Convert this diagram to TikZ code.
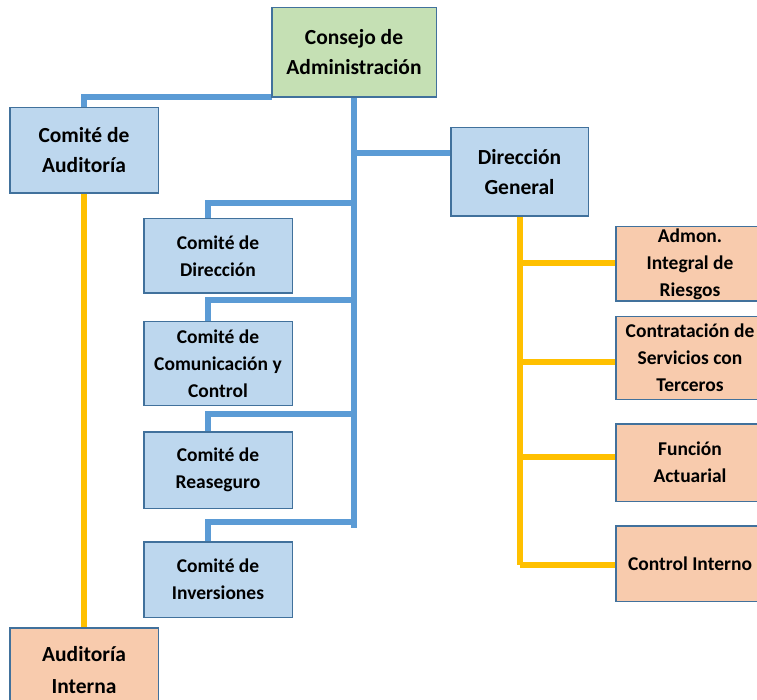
\documentclass[tikz,border=0pt]{standalone}
\usepackage{fontspec}
\setmainfont{Carlito}
\begin{document}
\begin{tikzpicture}[x=1pt,y=-1pt,
  box/.style={draw=boxline, line width=1pt, align=center, inner sep=0pt, text=black,
    font=\bfseries\fontsize{19.5}{27}\selectfont},
  bigfont/.style={font=\bfseries\fontsize{21.5}{30}\selectfont},
  bluebox/.style={box, fill=boxblue},
  greenbox/.style={box, bigfont, fill=boxgreen},
  orangebox/.style={box, fill=boxorange},
  bline/.style={draw=lineblue, line width=6pt},
  yline/.style={draw=lineyellow, line width=6pt}]
\definecolor{boxline}{HTML}{41719C}
\definecolor{boxblue}{HTML}{BDD7EE}
\definecolor{boxgreen}{HTML}{C5E0B4}
\definecolor{boxorange}{HTML}{F8CBAD}
\definecolor{lineblue}{HTML}{5B9BD5}
\definecolor{lineyellow}{HTML}{FFC000}
\clip (0,0) rectangle (757,700);
\fill[white] (0,0) rectangle (757,700);

% coordinates for junctions
\coordinate (j1) at (354,153);
\coordinate (b1) at (354,203);
\coordinate (b2) at (354,300);
\coordinate (b3) at (354,414);
\coordinate (b4) at (354,522);
\coordinate (tend) at (354,528);
\coordinate (y1) at (519.5,263);
\coordinate (y2) at (519.5,362);
\coordinate (y3) at (519.5,457);
\coordinate (y4) at (519.5,565);

% nodes
\node[greenbox, minimum width=164pt, minimum height=89pt] (cons) at (354,52.5) {Consejo de\\Administración};
\node[bluebox, bigfont, minimum width=148pt, minimum height=85pt] (caud) at (84,150.5) {Comité de\\Auditoría};
\node[bluebox, bigfont, minimum width=137pt, minimum height=88pt] (dg) at (519.5,172) {Dirección\\General};
\node[bluebox, minimum width=148pt, minimum height=74pt] (cdir) at (218,256) {Comité de\\Dirección};
\node[bluebox, minimum width=148pt, minimum height=83pt] (ccom) at (218,363.5) {Comité de\\Comunicación y\\Control};
\node[bluebox, minimum width=148pt, minimum height=76pt] (crea) at (218,470) {Comité de\\Reaseguro};
\node[bluebox, minimum width=148pt, minimum height=75pt] (cinv) at (218,579.5) {Comité de\\Inversiones};
\node[orangebox, minimum width=148pt, minimum height=74pt] (admon) at (690,264) {Admon.\\Integral de\\Riesgos};
\node[orangebox, minimum width=148pt, minimum height=82pt] (contr) at (690,358) {Contratación de\\Servicios con\\Terceros};
\node[orangebox, minimum width=148pt, minimum height=77pt] (func) at (690,462.5) {Función\\Actuarial};
\node[orangebox, minimum width=148pt, minimum height=75pt] (ctrl) at (690,563.5) {Control Interno};
\node[orangebox, font=\bfseries\fontsize{21.5}{32}\selectfont, minimum width=148pt, minimum height=84pt] (audi) at (84,670) {Auditoría\\Interna};

% blue connectors
\draw[bline] (cons.south west) -- (cons.south west -| caud.north) -- (caud.north);
\draw[bline] (cons.south) -- (tend);
\draw[bline] (j1) -- (j1 -| dg.west);
\draw[bline] (b1) -| ([xshift=-10pt]cdir.north);
\draw[bline] (b2) -| ([xshift=-10pt]ccom.north);
\draw[bline] (b3) -| ([xshift=-10pt]crea.north);
\draw[bline] (b4) -| ([xshift=-10pt]cinv.north);

% yellow connectors
\draw[yline] (caud.south) -- (audi.north);
\draw[yline] (dg.south) -- (y4);
\draw[yline] (y1) -- (y1 -| admon.west);
\draw[yline] (y2) -- (y2 -| contr.west);
\draw[yline] (y3) -- (y3 -| func.west);
\draw[yline] (y4) -- (y4 -| ctrl.west);

% redraw box borders on top
\foreach \n in {cons,caud,dg,cdir,ccom,crea,cinv,admon,contr,func,ctrl,audi}
  \draw[boxline, line width=1pt] (\n.south west) rectangle (\n.north east);
\end{tikzpicture}
\end{document}
